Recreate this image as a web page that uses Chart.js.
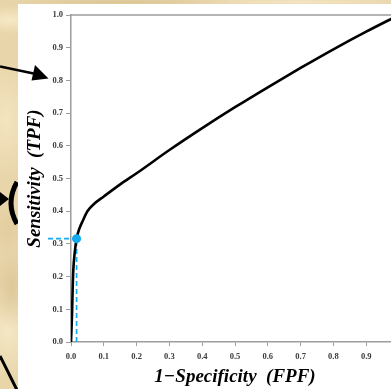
<!DOCTYPE html>
<html>
<head>
<meta charset="utf-8">
<title>ROC curve</title>
<script src="https://cdn.jsdelivr.net/npm/chart.js@4.4.0/dist/chart.umd.min.js"></script>
<style>
  html, body { margin: 0; padding: 0; width: 391px; height: 389px; overflow: hidden; }
  body {
    position: relative;
    background-color: #e8d5aa;
    background-image:
      radial-gradient(ellipse 40px 14px at 10px 20px, rgba(250,238,205,.8), rgba(250,238,205,0)),
      radial-gradient(ellipse 30px 60px at 6px 120px, rgba(246,232,196,.8), rgba(246,232,196,0)),
      radial-gradient(ellipse 20px 40px at 12px 290px, rgba(214,190,140,.6), rgba(214,190,140,0)),
      radial-gradient(ellipse 30px 50px at 8px 330px, rgba(248,236,204,.8), rgba(248,236,204,0)),
      radial-gradient(ellipse 120px 4px at 120px 2px, rgba(214,190,140,.7), rgba(214,190,140,0)),
      radial-gradient(ellipse 120px 4px at 300px 2px, rgba(245,232,200,.9), rgba(245,232,200,0)),
      radial-gradient(ellipse 18px 30px at 8px 230px, rgba(222,200,152,.6), rgba(222,200,152,0));
  }
  #under, #over { position: absolute; left: 0; top: 0; }
  #under { z-index: 0; }
  #over { z-index: 2; }
  #panel {
    position: absolute; left: 18px; top: 4px;
    width: 400px; height: 385px;
    background: #ffffff; z-index: 1;
  }
</style>
</head>
<body>
<!-- pointers from the surrounding slide -->
<svg id="under" width="391" height="389">
  <path d="M17 182 Q5 203 17 224" fill="none" stroke="#000" stroke-width="5"/>
  <polygon points="0,192 9,199 0,206" fill="#000"/>
  <line x1="0" y1="356" x2="17" y2="390" stroke="#000" stroke-width="3"/>
</svg>
<div id="panel"><canvas id="rocChart"></canvas></div>
<svg id="over" width="391" height="389">
  <line x1="0" y1="66.5" x2="36" y2="74" stroke="#000" stroke-width="2.6"/>
  <polygon points="35,65 48.5,78.5 31.5,80.5" fill="#000"/>
</svg>

<script>
// ROC curve: false positive fraction vs true positive fraction
const fpf = [0, 0.003, 0.005, 0.007, 0.011, 0.017, 0.025, 0.037, 0.05, 0.07, 0.1, 0.15, 0.2, 0.3, 0.4, 0.5, 0.6, 0.7, 0.8, 0.9, 1.0];
const tpf = [0, 0.08, 0.16, 0.22, 0.27, 0.316, 0.345, 0.373, 0.4, 0.422, 0.445, 0.482, 0.516, 0.587, 0.654, 0.718, 0.779, 0.838, 0.895, 0.949, 1.0];

// operating point and the start of its horizontal guide
const cutFpf = 0.017;
const cutTpf = 0.316;
const guideStart = -0.07;

const tickLabels = ['0.0', '0.1', '0.2', '0.3', '0.4', '0.5', '0.6', '0.7', '0.8', '0.9', '1.0'];

const cyan = '#12aaec';
const axisGrey = '#9c9c9c';
const serif = "'Liberation Serif', 'Times New Roman', serif";

const curve = fpf.map((x, i) => ({ x: x, y: tpf[i] }));

// top and right edges of the plot box
const frame = {
  id: 'frame',
  afterDraw(chart) {
    const a = chart.chartArea;
    const c = chart.ctx;
    c.save();
    c.strokeStyle = axisGrey;
    c.lineWidth = 1.5;
    c.beginPath();
    c.moveTo(a.left, a.top);
    c.lineTo(a.right, a.top);
    c.lineTo(a.right, a.bottom);
    c.stroke();
    c.restore();
  }
};

const tickFont = { family: serif, size: 8.5, weight: 'bold' };
const titleFont = { family: serif, size: 19, weight: 'bold', style: 'italic' };

new Chart(document.getElementById('rocChart'), {
  type: 'scatter',
  data: {
    datasets: [
      {
        data: [{ x: cutFpf, y: cutTpf }],
        pointRadius: 4.5,
        pointBackgroundColor: cyan,
        pointBorderWidth: 0,
        showLine: false,
        clip: false
      },
      {
        data: curve,
        showLine: true,
        borderColor: '#000',
        borderWidth: 2.6,
        pointRadius: 0,
        cubicInterpolationMode: 'monotone',
        borderCapStyle: 'round'
      },
      {
        data: [{ x: cutFpf, y: 0 }, { x: cutFpf, y: cutTpf }],
        showLine: true,
        borderColor: cyan,
        borderWidth: 1.6,
        borderDash: [5, 3],
        pointRadius: 0,
        clip: false
      },
      {
        data: [{ x: guideStart, y: cutTpf }, { x: cutFpf, y: cutTpf }],
        showLine: true,
        borderColor: cyan,
        borderWidth: 1.6,
        borderDash: [5, 3],
        pointRadius: 0,
        clip: false
      }
    ]
  },
  options: {
    responsive: true,
    maintainAspectRatio: false,
    animation: false,
    layout: { padding: { top: 11, right: 19, bottom: 0, left: 0 } },
    plugins: { legend: { display: false }, tooltip: { enabled: false } },
    scales: {
      x: {
        type: 'linear',
        min: 0, max: 1,
        afterFit(scale) { scale.height = 47; },
        border: { color: axisGrey, width: 1.5 },
        grid: { drawOnChartArea: false, color: axisGrey, tickLength: 4 },
        ticks: {
          stepSize: 0.1, padding: 6, color: '#3a3a3a', font: tickFont, maxRotation: 0,
          callback: (v, i) => tickLabels[i]
        },
        title: {
          display: true, text: '1\u2212Specificity  (FPF)', color: '#000',
          font: titleFont, padding: { top: 0, bottom: 1 }
        }
      },
      y: {
        type: 'linear',
        min: 0, max: 1,
        afterFit(scale) { scale.width = 53; },
        border: { color: axisGrey, width: 1.5 },
        grid: { drawOnChartArea: false, color: axisGrey, tickLength: 5 },
        ticks: {
          stepSize: 0.1, padding: 3, color: '#3a3a3a', font: tickFont,
          callback: (v, i) => tickLabels[i]
        },
        title: {
          display: true, text: 'Sensitivity  (TPF)', color: '#000',
          font: titleFont, padding: { top: 6, bottom: 0 }
        }
      }
    }
  },
  plugins: [frame]
});
</script>
</body>
</html>
